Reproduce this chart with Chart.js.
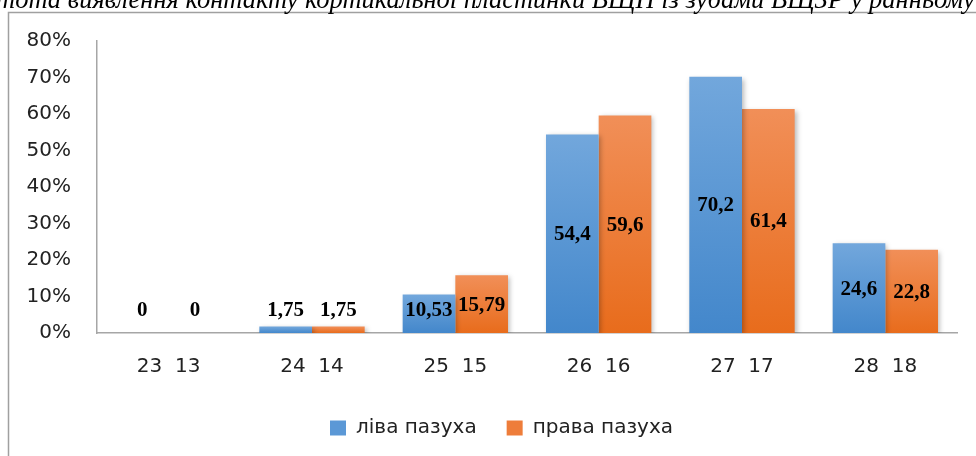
<!DOCTYPE html>
<html>
<head>
<meta charset="utf-8">
<script src="https://cdn.jsdelivr.net/npm/chart.js@4/dist/chart.umd.min.js"></script>
<style>
html,body{margin:0;padding:0;background:#fff;}
#wrap{position:relative;width:976px;height:456px;}
</style>
</head>
<body>
<div id="wrap"><canvas id="c" width="976" height="456"></canvas></div>
<script>
const categories = ["23  13", "24  14", "25  15", "26  16", "27  17", "28  18"];
const leftSinus = [0, 1.75, 10.53, 54.4, 70.2, 24.6];
const rightSinus = [0, 1.75, 15.79, 59.6, 61.4, 22.8];
const seriesNames = ["ліва пазуха", "права пазуха"];
const yTicks = [0, 10, 20, 30, 40, 50, 60, 70, 80];
const titleText = "тота виявлення контакту кортикальної пластинки ВЩП із зубами ВЩЗР у ранньому";

function barGradient(top, bottom) {
  return function(ctx) {
    const chart = ctx.chart;
    if (!chart.chartArea || !chart.scales.y || ctx.parsed === undefined) return top;
    const ys = chart.scales.y;
    const y0 = ys.getPixelForValue(ctx.parsed.y);
    const y1 = ys.getPixelForValue(0);
    if (!isFinite(y0) || !isFinite(y1) || Math.abs(y1 - y0) < 1) return top;
    const g = chart.ctx.createLinearGradient(0, y0, 0, y1);
    g.addColorStop(0, top);
    g.addColorStop(1, bottom);
    return g;
  };
}

const framePlugin = {
  id: 'frame',
  beforeDraw(chart) {
    const c = chart.ctx;
    c.save();
    c.strokeStyle = '#a0a0a0';
    c.lineWidth = 1.5;
    c.beginPath();
    c.moveTo(8.5, 456);
    c.lineTo(8.5, 12.5);
    c.lineTo(976, 12.5);
    c.stroke();
    c.fillStyle = '#000';
    c.font = 'italic 26.5px "Liberation Serif"';
    c.textAlign = 'left';
    c.textBaseline = 'alphabetic';
    c.fillText(titleText, -4, 8);
    c.restore();
  }
};

const legendShiftPlugin = {
  id: 'legendShift',
  afterLayout(chart) {
    if (chart.legend) {
      chart.legend.left += 10;
      chart.legend.right += 10;
    }
  }
};

const shadowPlugin = {
  id: 'shadow',
  beforeDatasetsDraw(chart) {
    const c = chart.ctx;
    c.save();
    c.shadowColor = 'rgba(0,0,0,0.28)';
    c.shadowBlur = 5;
    c.shadowOffsetX = 2;
    c.shadowOffsetY = 2;
  },
  afterDatasetsDraw(chart) {
    chart.ctx.restore();
  }
};

const labelPlugin = {
  id: 'vlabels',
  afterDraw(chart) {
    const c = chart.ctx;
    c.save();
    c.fillStyle = '#000';
    c.font = 'bold 21px "Liberation Serif"';
    c.textAlign = 'center';
    c.textBaseline = 'middle';
    chart.data.datasets.forEach((ds, di) => {
      const meta = chart.getDatasetMeta(di);
      meta.data.forEach((el, i) => {
        const v = ds.data[i];
        const txt = String(v).replace('.', ',');
        const y = Math.min((el.y + el.base) / 2, el.base - 23);
        c.fillText(txt, el.x, y + 1);
      });
    });
    c.restore();
  }
};

new Chart(document.getElementById('c'), {
  type: 'bar',
  data: {
    labels: categories,
    datasets: [
      { label: seriesNames[0], data: leftSinus,
        backgroundColor: barGradient('#72a7dc', '#4387cb'),
        borderWidth: 0 },
      { label: seriesNames[1], data: rightSinus,
        backgroundColor: barGradient('#f18f58', '#e86c1c'),
        borderWidth: 0 }
    ]
  },
  options: {
    responsive: false,
    animation: false,
    devicePixelRatio: 1,
    layout: { padding: { left: 26, right: 19, top: 41, bottom: 8 } },
    datasets: { bar: { categoryPercentage: 0.735, barPercentage: 1.0 } },
    scales: {
      x: {
        afterFit(scale) { scale.height = 55; },
        grid: { display: false, drawTicks: false },
        border: { display: true, color: '#a6a6a6', width: 1.5 },
        ticks: { color: '#222', font: { family: '"DejaVu Sans"', size: 20 }, padding: 22, maxRotation: 0 }
      },
      y: {
        min: 0, max: 80,
        afterFit(scale) { scale.width = 71; },
        afterBuildTicks(scale) { scale.ticks = yTicks.map(v => ({ value: v })); },
        grid: { display: false, drawTicks: false },
        border: { display: true, color: '#a6a6a6', width: 1.5 },
        ticks: { color: '#222', font: { family: '"DejaVu Sans"', size: 20 }, padding: 26,
          callback: v => v + '%' }
      }
    },
    plugins: {
      legend: {
        position: 'bottom',
        labels: {
          boxWidth: 16, boxHeight: 15, padding: 30, color: '#222',
          font: { family: '"DejaVu Sans"', size: 20 },
          generateLabels(chart) {
            const cols = ['#5b98d6', '#ee7d3a'];
            return chart.data.datasets.map((d, i) => ({
              text: d.label, fillStyle: cols[i], strokeStyle: cols[i], lineWidth: 0,
              hidden: false, datasetIndex: i, fontColor: '#222'
            }));
          }
        }
      },
      tooltip: { enabled: false },
      title: { display: false }
    }
  },
  plugins: [framePlugin, legendShiftPlugin, shadowPlugin, labelPlugin]
});
</script>
</body>
</html>
